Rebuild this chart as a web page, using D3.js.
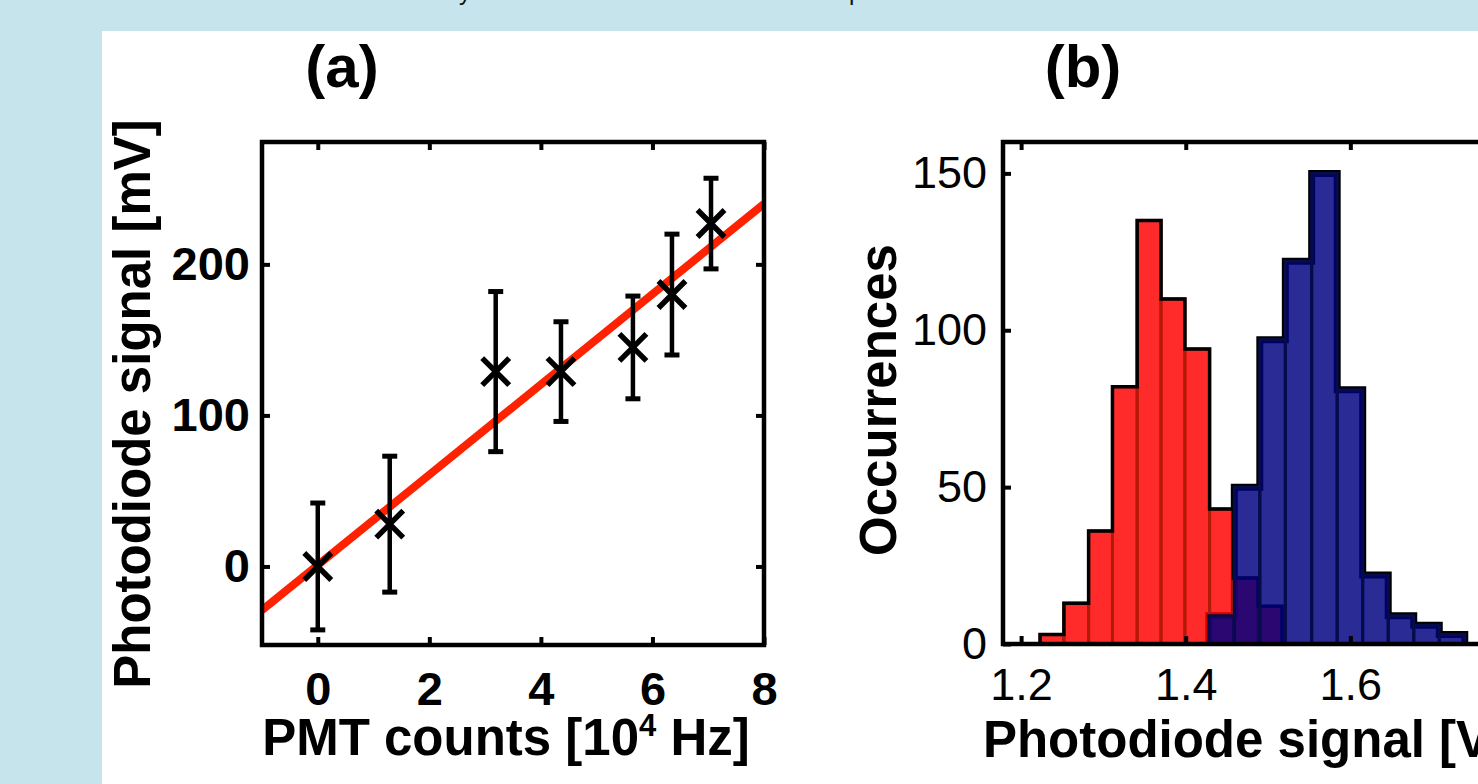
<!DOCTYPE html>
<html>
<head>
<meta charset="utf-8">
<script src="https://cdn.jsdelivr.net/npm/d3@7"></script>
<style>
html, body { margin: 0; padding: 0; background: #c5e4eb; overflow: hidden; }
svg { display: block; }
text { font-family: "Liberation Sans", Arial, Helvetica, sans-serif; }
</style>
</head>
<body>
<svg id="fig" width="1478" height="784"></svg>
<script>
//Panel (a): photodiode signal vs PMT count rate
var pmtCounts   = [0, 1.29, 3.19, 4.36, 5.65, 6.35, 7.05];
var diodeSignal = [0, 28, 129, 129, 145, 180, 227];
var diodeError  = [42, 45, 53, 33, 34, 40, 30];
var fitLine     = {slope: 29.9, intercept: 0.9};
var aTicksX = [0, 2, 4, 6, 8];
var aTicksY = [0, 100, 200];

//Panel (b): histograms of the photodiode signal
var redEdges   = [1.223, 1.252, 1.282, 1.311, 1.341, 1.370, 1.399, 1.429, 1.458, 1.488, 1.517];
var redCounts  = [3, 13, 36, 82, 135, 110, 94, 43, 21, 12];
var blueEdges  = [1.428, 1.459, 1.490, 1.521, 1.553, 1.584, 1.615, 1.646, 1.677, 1.708, 1.739];
var blueCounts = [9, 50, 97, 122, 150, 81, 22, 9, 6, 3];
var bTicksX = [1.2, 1.4, 1.6];
var bTicksY = [0, 50, 100, 150];

var svg = d3.select("#fig");

//white figure area over the blue page
svg.append("rect")
  .attr("x", 102).attr("y", 31)
  .attr("width", 1400).attr("height", 760)
  .attr("fill", "#fff");

//descenders of the caption line cut off at the top
svg.append("text").attr("x", 459).attr("y", 0).attr("font-size", 24).attr("fill", "#111").text("y");
svg.append("text").attr("x", 849).attr("y", 0).attr("font-size", 24).attr("fill", "#111").text("p");

///////////////////////////////////////////////////////////////////////////
/////////////////////////////// Panel (a) /////////////////////////////////
///////////////////////////////////////////////////////////////////////////

var xa = d3.scaleLinear().domain([-1, 8]).range([262, 764]);
var ya = d3.scaleLinear().domain([-52, 281]).range([645, 142]);

svg.append("defs").append("clipPath").attr("id", "clipA")
  .append("rect")
  .attr("x", xa.range()[0]).attr("y", ya.range()[1])
  .attr("width", xa.range()[1] - xa.range()[0])
  .attr("height", ya.range()[0] - ya.range()[1]);

//linear fit
svg.append("line")
  .attr("clip-path", "url(#clipA)")
  .attr("x1", xa(-1)).attr("y1", ya(fitLine.intercept - fitLine.slope))
  .attr("x2", xa(8)).attr("y2", ya(fitLine.intercept + 8 * fitLine.slope))
  .attr("stroke", "#ff2200")
  .attr("stroke-width", 8);

var pts = pmtCounts.map(function(d, i) {
  return {x: d, y: diodeSignal[i], e: diodeError[i]};
});

var bars = svg.append("g").attr("stroke", "#000").attr("fill", "none");
bars.selectAll(".ebar").data(pts).enter().append("line")
  .attr("class", "ebar")
  .attr("x1", function(d) { return xa(d.x); })
  .attr("x2", function(d) { return xa(d.x); })
  .attr("y1", function(d) { return ya(d.y - d.e); })
  .attr("y2", function(d) { return ya(d.y + d.e); })
  .attr("stroke-width", 4.5);
bars.selectAll(".capTop").data(pts).enter().append("line")
  .attr("class", "capTop")
  .attr("x1", function(d) { return xa(d.x) - 7.5; })
  .attr("x2", function(d) { return xa(d.x) + 7.5; })
  .attr("y1", function(d) { return ya(d.y + d.e); })
  .attr("y2", function(d) { return ya(d.y + d.e); })
  .attr("stroke-width", 5);
bars.selectAll(".capBot").data(pts).enter().append("line")
  .attr("class", "capBot")
  .attr("x1", function(d) { return xa(d.x) - 7.5; })
  .attr("x2", function(d) { return xa(d.x) + 7.5; })
  .attr("y1", function(d) { return ya(d.y - d.e); })
  .attr("y2", function(d) { return ya(d.y - d.e); })
  .attr("stroke-width", 5);

//x markers
svg.append("g").selectAll("path").data(pts).enter().append("path")
  .attr("d", "M-13.5,-13.5L13.5,13.5M-13.5,13.5L13.5,-13.5")
  .attr("transform", function(d) { return "translate(" + xa(d.x) + "," + ya(d.y) + ")"; })
  .attr("stroke", "#000")
  .attr("stroke-width", 5.5)
  .attr("fill", "none");

//axes: inward ticks on all four sides, labels left and bottom
function styleAxis(g, size, weight) {
  g.select(".domain").remove();
  g.selectAll(".tick line").attr("stroke", "#000").attr("stroke-width", 4);
  g.attr("font-family", "'Liberation Sans', Arial, Helvetica, sans-serif")
   .attr("font-size", size)
   .attr("font-weight", weight);
  g.selectAll(".tick text").attr("fill", "#000");
}

svg.append("g").attr("transform", "translate(" + xa.range()[0] + ",0)")
  .call(d3.axisLeft(ya).tickValues(aTicksY).tickSize(-8).tickPadding(12))
  .call(styleAxis, 47, "bold");
svg.append("g").attr("transform", "translate(" + xa.range()[1] + ",0)")
  .call(d3.axisRight(ya).tickValues(aTicksY).tickSize(-8).tickFormat(""))
  .call(styleAxis, 47, "bold");
svg.append("g").attr("transform", "translate(0," + ya.range()[0] + ")")
  .call(d3.axisBottom(xa).tickValues(aTicksX).tickSize(-8).tickPadding(27))
  .call(styleAxis, 47, "bold");
svg.append("g").attr("transform", "translate(0," + ya.range()[1] + ")")
  .call(d3.axisTop(xa).tickValues(aTicksX).tickSize(-8).tickFormat(""))
  .call(styleAxis, 47, "bold");

svg.append("rect")
  .attr("x", xa.range()[0]).attr("y", ya.range()[1])
  .attr("width", xa.range()[1] - xa.range()[0])
  .attr("height", ya.range()[0] - ya.range()[1])
  .attr("fill", "none")
  .attr("stroke", "#000")
  .attr("stroke-width", 4.5);

svg.append("text")
  .attr("x", 342).attr("y", 87)
  .attr("text-anchor", "middle")
  .attr("font-size", 60).attr("font-weight", "bold")
  .text("(a)");

svg.append("text")
  .attr("transform", "translate(150,404) rotate(-90)")
  .attr("text-anchor", "middle")
  .attr("font-size", 51).attr("font-weight", "bold")
  .text("Photodiode signal [mV]");

var xlab = svg.append("text")
  .attr("x", 506).attr("y", 755)
  .attr("text-anchor", "middle")
  .attr("font-size", 51).attr("font-weight", "bold");
xlab.append("tspan").text("PMT counts [10");
xlab.append("tspan").attr("font-size", 31).attr("dy", -19).text("4");
xlab.append("tspan").attr("dy", 19).text(" Hz]");

///////////////////////////////////////////////////////////////////////////
/////////////////////////////// Panel (b) /////////////////////////////////
///////////////////////////////////////////////////////////////////////////

var xb = d3.scaleLinear().domain([1.178, 1.766]).range([1003, 1487]);
var yb = d3.scaleLinear().domain([0, 160]).range([644, 142]);

function toBins(edges, counts) {
  return counts.map(function(n, i) { return {x0: edges[i], x1: edges[i + 1], n: n}; });
}

function outline(edges, counts) {
  var p = [[edges[0], 0]];
  counts.forEach(function(n, i) {
    p.push([edges[i], n]);
    p.push([edges[i + 1], n]);
  });
  p.push([edges[edges.length - 1], 0]);
  return d3.line().x(function(d) { return xb(d[0]); }).y(function(d) { return yb(d[1]); })(p);
}

function drawOutline(edges, counts, w) {
  svg.append("path")
    .attr("d", outline(edges, counts))
    .attr("fill", "none")
    .attr("stroke", "#000")
    .attr("stroke-width", w);
}

function drawBars(edges, counts, fill, edgeCol) {
  svg.append("g").selectAll("rect").data(toBins(edges, counts)).enter().append("rect")
    .attr("x", function(d) { return xb(d.x0); })
    .attr("width", function(d) { return xb(d.x1) - xb(d.x0); })
    .attr("y", function(d) { return yb(d.n); })
    .attr("height", function(d) { return yb(0) - yb(d.n); })
    .attr("fill", fill)
    .attr("fill-opacity", 0.83)
    .attr("stroke", edgeCol)
    .attr("stroke-width", 3);
}

//blue outline goes underneath so it only shows against the white
drawOutline(blueEdges, blueCounts, 7);
drawBars(redEdges, redCounts, "#ff0000", "#b01a08");
drawOutline(redEdges, redCounts, 3.5);
drawBars(blueEdges, blueCounts, "#000080", "#060c4a");

svg.append("g").attr("transform", "translate(" + xb.range()[0] + ",0)")
  .call(d3.axisLeft(yb).tickValues(bTicksY).tickSize(-8).tickPadding(16))
  .call(styleAxis, 45, "normal");
svg.append("g").attr("transform", "translate(0," + yb.range()[0] + ")")
  .call(d3.axisBottom(xb).tickValues(bTicksX).tickSize(-8).tickPadding(24).tickFormat(d3.format(".1f")))
  .call(styleAxis, 45, "normal");
svg.append("g").attr("transform", "translate(0," + yb.range()[1] + ")")
  .call(d3.axisTop(xb).tickValues(bTicksX).tickSize(-8).tickFormat(""))
  .call(styleAxis, 45, "normal");

svg.append("rect")
  .attr("x", xb.range()[0]).attr("y", yb.range()[1])
  .attr("width", xb.range()[1] - xb.range()[0])
  .attr("height", yb.range()[0] - yb.range()[1])
  .attr("fill", "none")
  .attr("stroke", "#000")
  .attr("stroke-width", 4.5);

svg.append("text")
  .attr("x", 1083).attr("y", 87)
  .attr("text-anchor", "middle")
  .attr("font-size", 60).attr("font-weight", "bold")
  .text("(b)");

svg.append("text")
  .attr("transform", "translate(896,400) rotate(-90)")
  .attr("text-anchor", "middle")
  .attr("font-size", 51).attr("font-weight", "bold")
  .text("Occurrences");

svg.append("text")
  .attr("x", (xb.range()[0] + xb.range()[1]) / 2).attr("y", 757)
  .attr("text-anchor", "middle")
  .attr("font-size", 51).attr("font-weight", "bold")
  .text("Photodiode signal [V]");
</script>
</body>
</html>
